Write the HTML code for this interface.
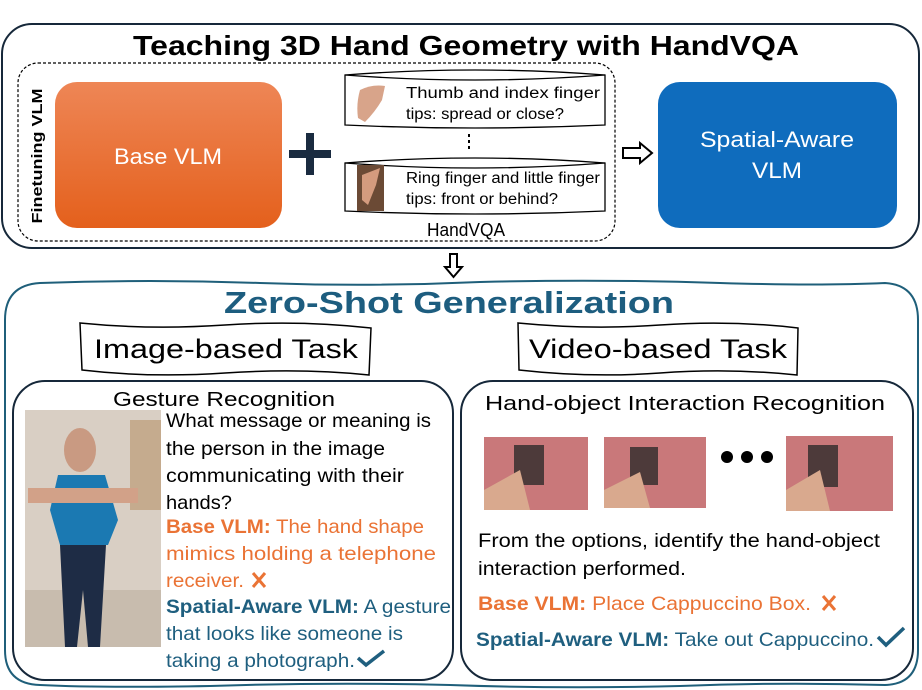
<!DOCTYPE html>
<html><head><meta charset="utf-8"><style>
body{margin:0;background:#fff;}
svg{display:block;font-family:"Liberation Sans Narrow","Liberation Sans",sans-serif;}
</style></head><body>
<svg width="922" height="690" viewBox="0 0 922 690" xmlns="http://www.w3.org/2000/svg">
<defs>
<linearGradient id="og" x1="0" y1="0" x2="0" y2="1"><stop offset="0" stop-color="#ee8656"/><stop offset="1" stop-color="#e4601c"/></linearGradient>
</defs>
<rect x="2" y="24" width="917" height="224" rx="30" fill="#fff" stroke="#16283a" stroke-width="2"/>
<text x="466" y="55" text-anchor="middle" font-size="28" font-weight="bold" textLength="666" lengthAdjust="spacingAndGlyphs" fill="#000">Teaching 3D Hand Geometry with HandVQA</text>
<rect x="18" y="63" width="597" height="178" rx="20" fill="none" stroke="#000" stroke-width="1.2" stroke-dasharray="3,2"/>
<text transform="translate(42,156) rotate(-90)" text-anchor="middle" font-size="15" font-weight="bold" font-family="Liberation Sans,sans-serif" textLength="135" lengthAdjust="spacingAndGlyphs">Finetuning VLM</text>
<rect x="55" y="82" width="227" height="146" rx="22" fill="url(#og)"/>
<text x="168" y="164" text-anchor="middle" font-size="22" fill="#fff" textLength="108" lengthAdjust="spacingAndGlyphs">Base VLM</text>
<rect x="306" y="133" width="8" height="42" fill="#1a2b40"/><rect x="289" y="150" width="42" height="8" fill="#1a2b40"/>
<g stroke="#000" stroke-width="1.3" fill="#fff">
<path d="M345 75 Q475 65 605 75 L605 125 Q475 131 345 125 Z"/>
<path d="M345 75 Q475 85 605 75" fill="none"/>
<path d="M345 163 Q475 153 605 163 L605 211 Q475 217 345 211 Z"/>
<path d="M345 163 Q475 173 605 163" fill="none"/>
</g>
<path d="M360 90 Q372 84 385 86 L382 100 Q375 112 365 122 L358 118 Q356 104 360 90Z" fill="#d8a48a"/>
<rect x="357" y="165" width="27" height="46" fill="#6b4a35"/>
<path d="M362 175 L380 168 L376 185 L368 205 L362 200Z" fill="#d49b7e"/>
<text x="406" y="98" font-size="15.5" textLength="194" lengthAdjust="spacingAndGlyphs">Thumb and index finger</text>
<text x="406" y="119" font-size="15.5" textLength="158" lengthAdjust="spacingAndGlyphs">tips: spread or close?</text>
<text x="406" y="183" font-size="15.5" textLength="194" lengthAdjust="spacingAndGlyphs">Ring finger and little finger</text>
<text x="406" y="204" font-size="15.5" textLength="152" lengthAdjust="spacingAndGlyphs">tips: front or behind?</text>
<g fill="#000"><rect x="468" y="134" width="2" height="3"/><rect x="468" y="140" width="2" height="3"/><rect x="468" y="146" width="2" height="3"/></g>
<text x="466" y="236" text-anchor="middle" font-size="18" textLength="78" lengthAdjust="spacingAndGlyphs">HandVQA</text>
<path d="M623 148 L640 148 L640 143 L652 153 L640 163 L640 158 L623 158 Z" fill="#fff" stroke="#000" stroke-width="2"/>
<rect x="658" y="82" width="239" height="146" rx="22" fill="#0f6cbd"/>
<text x="777" y="147" text-anchor="middle" font-size="22" fill="#fff" textLength="154" lengthAdjust="spacingAndGlyphs">Spatial-Aware</text>
<text x="777" y="178" text-anchor="middle" font-size="22" fill="#fff" textLength="50" lengthAdjust="spacingAndGlyphs">VLM</text>
<path d="M450 254 L457 254 L457 267 L462 267 L453.5 277 L445 267 L450 267 Z" fill="#fff" stroke="#000" stroke-width="2"/>
<path d="M40 283 Q150 279 260 283 Q370 287 480 282 Q600 279 720 283 Q820 286 885 283 Q918 285 918 320 L918 650 Q918 684 885 685 Q780 682 680 686 Q560 689 450 685 Q330 682 210 686 Q100 688 40 685 Q5 684 5 650 L5 320 Q5 285 40 283 Z" fill="none" stroke="#1f5f7a" stroke-width="2"/>
<text x="449" y="313" text-anchor="middle" font-size="31" font-weight="bold" fill="#1d5d7f" textLength="450" lengthAdjust="spacingAndGlyphs">Zero-Shot Generalization</text>
<path d="M80 323 Q150 330 225 325 Q300 320 371 328 L369 375 Q300 368 225 373 Q150 378 82 370 Z" fill="#fff" stroke="#000" stroke-width="1.5"/>
<text x="226" y="358" text-anchor="middle" font-size="27" textLength="264" lengthAdjust="spacingAndGlyphs">Image-based Task</text>
<path d="M518 323 Q590 330 660 325 Q730 320 798 328 L797 375 Q730 368 660 373 Q590 378 519 370 Z" fill="#fff" stroke="#000" stroke-width="1.5"/>
<text x="658" y="358" text-anchor="middle" font-size="27" textLength="258" lengthAdjust="spacingAndGlyphs">Video-based Task</text>
<rect x="13" y="381" width="440" height="299" rx="32" fill="none" stroke="#16283a" stroke-width="2"/>
<rect x="461" y="381" width="452" height="299" rx="32" fill="none" stroke="#16283a" stroke-width="2"/>
<text x="224" y="406" text-anchor="middle" font-size="20" textLength="222" lengthAdjust="spacingAndGlyphs">Gesture Recognition</text>
<rect x="25" y="410" width="136" height="237" fill="#d9cfc4"/>
<rect x="25" y="590" width="136" height="57" fill="#c8bcae"/>
<rect x="130" y="420" width="31" height="90" fill="#b8926a" opacity=".6"/>
<ellipse cx="80" cy="450" rx="16" ry="22" fill="#c99a82"/>
<path d="M58 475 L105 475 L118 520 L108 545 L60 545 L50 510 Z" fill="#1b79b2"/>
<rect x="28" y="488" width="110" height="15" fill="#d2a188"/>
<path d="M60 545 L106 545 L100 647 L88 647 L83 590 L77 647 L65 647 Z" fill="#1e2c45"/>
<g font-size="19.5">
<text x="166" y="427" textLength="265" lengthAdjust="spacingAndGlyphs">What message or meaning is</text>
<text x="166" y="455" textLength="219" lengthAdjust="spacingAndGlyphs">the person in the image</text>
<text x="166" y="482" textLength="238" lengthAdjust="spacingAndGlyphs">communicating with their</text>
<text x="166" y="509" textLength="66" lengthAdjust="spacingAndGlyphs">hands?</text>
<text x="166" y="533" fill="#ea7335" textLength="258" lengthAdjust="spacingAndGlyphs"><tspan font-weight="bold">Base VLM:</tspan> The hand shape</text>
<text x="166" y="560" fill="#ea7335" textLength="270" lengthAdjust="spacingAndGlyphs">mimics holding a telephone</text>
<text x="166" y="587" fill="#ea7335" textLength="78" lengthAdjust="spacingAndGlyphs">receiver.</text>
<text x="166" y="613" fill="#1f5f7f" textLength="285" lengthAdjust="spacingAndGlyphs"><tspan font-weight="bold">Spatial-Aware VLM:</tspan> A gesture</text>
<text x="166" y="640" fill="#1f5f7f" textLength="237" lengthAdjust="spacingAndGlyphs">that looks like someone is</text>
<text x="166" y="667" fill="#1f5f7f" textLength="189" lengthAdjust="spacingAndGlyphs">taking a photograph.</text>
</g>
<path d="M253 573 L265 587 M265 573 L253 587" stroke="#ea7335" stroke-width="3"/>
<path d="M358 658 L366 665 L384 651" stroke="#1f5f7f" stroke-width="3.5" fill="none"/>
<text x="685" y="410" text-anchor="middle" font-size="20" textLength="400" lengthAdjust="spacingAndGlyphs">Hand-object Interaction Recognition</text>
<g>
<rect x="484" y="437" width="104" height="73" fill="#c9787a"/>
<rect x="604" y="437" width="102" height="71" fill="#c9787a"/>
<rect x="786" y="436" width="107" height="75" fill="#c9787a"/>
<rect x="514" y="445" width="30" height="40" fill="#4d3a3a"/>
<rect x="630" y="447" width="28" height="38" fill="#4d3a3a"/>
<rect x="808" y="445" width="30" height="42" fill="#4d3a3a"/>
<path d="M484 490 L520 470 L530 510 L484 510Z" fill="#d9a98e"/>
<path d="M604 490 L640 472 L650 508 L604 508Z" fill="#d9a98e"/>
<path d="M786 490 L820 470 L830 511 L786 511Z" fill="#d9a98e"/>
</g>
<circle cx="727" cy="457" r="6" fill="#000"/><circle cx="747" cy="457" r="6" fill="#000"/><circle cx="767" cy="457" r="6" fill="#000"/>
<g font-size="19.5">
<text x="478" y="547" textLength="402" lengthAdjust="spacingAndGlyphs">From the options, identify the hand-object</text>
<text x="478" y="575" textLength="208" lengthAdjust="spacingAndGlyphs">interaction performed.</text>
<text x="478" y="610" fill="#ea7335" textLength="333" lengthAdjust="spacingAndGlyphs"><tspan font-weight="bold">Base VLM:</tspan>  Place Cappuccino Box.</text>
<text x="476" y="646" fill="#1f5f7f" textLength="398" lengthAdjust="spacingAndGlyphs"><tspan font-weight="bold">Spatial-Aware VLM:</tspan> Take out Cappuccino.</text>
</g>
<path d="M823 596 L835 610 M835 596 L823 610" stroke="#ea7335" stroke-width="3"/>
<path d="M878 637 L886 645 L904 628" stroke="#1f5f7f" stroke-width="3.5" fill="none"/>
</svg>
</body></html>
